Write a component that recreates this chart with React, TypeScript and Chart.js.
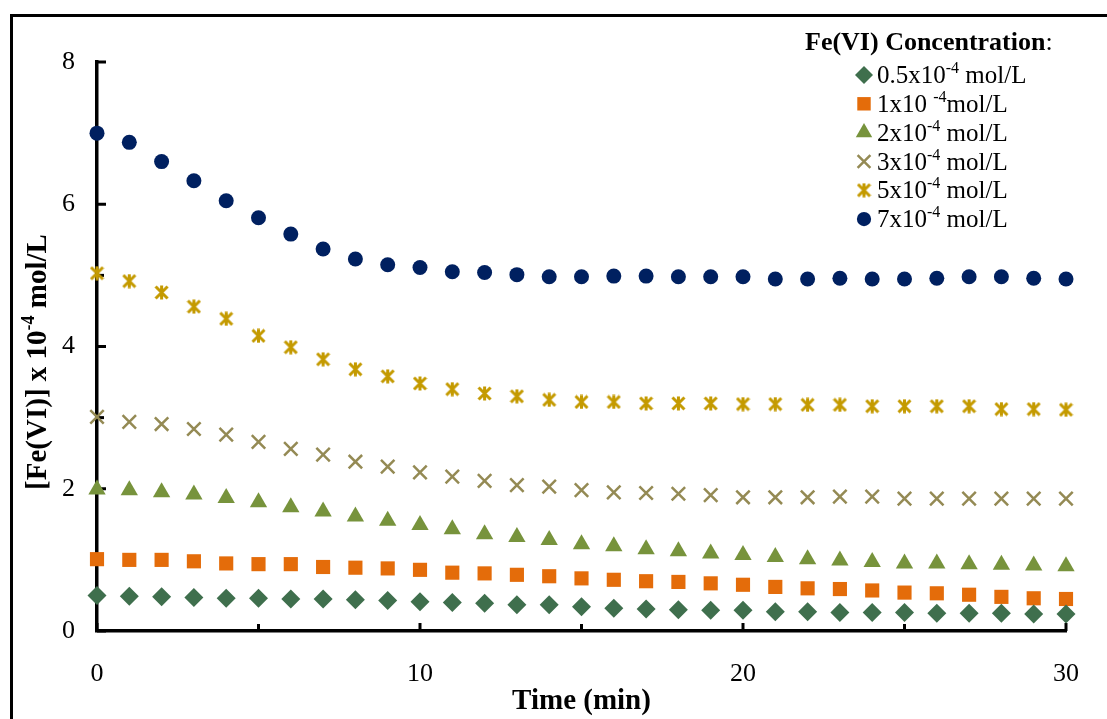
import React, { useEffect, useRef } from "react";
import { Chart, registerables } from "chart.js";
import { drawPoint } from "chart.js/helpers";

Chart.register(...registerables);

// ---------- data ----------
const times = [0, 1, 2, 3, 4, 5, 6, 7, 8, 9, 10, 11, 12, 13, 14, 15, 16, 17, 18, 19, 20, 21, 22, 23, 24, 25, 26, 27, 28, 29, 30];

const conc05 = [0.50, 0.49, 0.48, 0.47, 0.46, 0.46, 0.45, 0.45, 0.44, 0.43, 0.41, 0.40, 0.39, 0.37, 0.37, 0.34, 0.32, 0.31, 0.30, 0.29, 0.29, 0.27, 0.27, 0.26, 0.26, 0.26, 0.25, 0.25, 0.25, 0.24, 0.24];
const conc1 = [1.01, 1.00, 1.00, 0.98, 0.95, 0.94, 0.94, 0.90, 0.89, 0.88, 0.86, 0.82, 0.81, 0.79, 0.77, 0.74, 0.72, 0.70, 0.69, 0.67, 0.65, 0.62, 0.60, 0.59, 0.57, 0.54, 0.53, 0.51, 0.48, 0.46, 0.45];
const conc2 = [1.99, 1.98, 1.95, 1.92, 1.87, 1.81, 1.74, 1.68, 1.61, 1.55, 1.49, 1.43, 1.36, 1.32, 1.28, 1.22, 1.19, 1.15, 1.12, 1.09, 1.07, 1.04, 1.01, 0.99, 0.97, 0.95, 0.95, 0.94, 0.93, 0.92, 0.91];
const conc3 = [3.01, 2.94, 2.91, 2.84, 2.76, 2.66, 2.56, 2.48, 2.38, 2.31, 2.23, 2.17, 2.11, 2.05, 2.03, 1.98, 1.95, 1.94, 1.93, 1.91, 1.88, 1.88, 1.88, 1.89, 1.89, 1.86, 1.86, 1.86, 1.86, 1.86, 1.86];
const conc5 = [5.03, 4.92, 4.76, 4.56, 4.39, 4.15, 3.99, 3.82, 3.68, 3.58, 3.48, 3.40, 3.34, 3.30, 3.25, 3.22, 3.22, 3.20, 3.20, 3.20, 3.19, 3.19, 3.18, 3.18, 3.16, 3.16, 3.16, 3.16, 3.12, 3.12, 3.11];
const conc7 = [7.00, 6.87, 6.60, 6.33, 6.05, 5.81, 5.58, 5.37, 5.23, 5.15, 5.11, 5.05, 5.04, 5.01, 4.98, 4.98, 4.99, 4.99, 4.98, 4.98, 4.98, 4.95, 4.95, 4.96, 4.95, 4.95, 4.96, 4.98, 4.98, 4.96, 4.95];

const legendTitle = "Fe(VI) Concentration";
const legendBase = ["0.5x10", "1x10 ", "2x10", "3x10", "5x10", "7x10"];
const legendSup = ["-4", "-4", "-4", "-4", "-4", "-4"];
const legendTail = [" mol/L", "mol/L", " mol/L", " mol/L", " mol/L", " mol/L"];

const xTitle = "Time (min)";
const yTitleBase = "[Fe(VI)] x 10";
const yTitleSup = "-4";
const yTitleTail = " mol/L";

const xMin = 0, xMax = 30, xStep = 5, xLabelEvery = 10;
const yMin = 0, yMax = 8, yStep = 1, yLabelEvery = 2;

// ---------- styles ----------
const FONT = '"Liberation Serif", "Times New Roman", serif';
const C_DIAMOND = "#3F6F4D";
const C_SQUARE = "#E46C0A";
const C_TRI = "#77933C";
const C_X = "#948A54";
const C_STAR = "#C49A00";
const C_CIRCLE = "#002060";

function makeAsterisk(color: string, size: number, lw: number) {
  const c = document.createElement("canvas");
  c.width = size;
  c.height = size;
  const ctx = c.getContext("2d")!;
  ctx.strokeStyle = color;
  ctx.lineWidth = lw;
  const m = lw / 2;
  ctx.beginPath();
  ctx.moveTo(m, m);
  ctx.lineTo(size - m, size - m);
  ctx.moveTo(size - m, m);
  ctx.lineTo(m, size - m);
  ctx.moveTo(size / 2, 0.5);
  ctx.lineTo(size / 2, size - 0.5);
  ctx.stroke();
  return c;
}

function drawRich(
  ctx: CanvasRenderingContext2D,
  x: number,
  y: number,
  base: string,
  sup: string,
  tail: string,
  size: number,
  bold: boolean,
  align: "left" | "center"
) {
  const w = bold ? "bold " : "";
  const mainFont = `${w}${size}px ${FONT}`;
  const supSize = Math.round(size * 0.62);
  const supFont = `${w}${supSize}px ${FONT}`;
  ctx.font = mainFont;
  const w1 = ctx.measureText(base).width;
  const w3 = ctx.measureText(tail).width;
  ctx.font = supFont;
  const w2 = ctx.measureText(sup).width;
  const total = w1 + w2 + w3;
  let sx = align === "center" ? x - total / 2 : x;
  ctx.textAlign = "left";
  ctx.textBaseline = "alphabetic";
  const baseline = y + size * 0.33;
  ctx.font = mainFont;
  ctx.fillText(base, sx, baseline);
  sx += w1;
  ctx.font = supFont;
  ctx.fillText(sup, sx, baseline - size * 0.4);
  sx += w2;
  ctx.font = mainFont;
  ctx.fillText(tail, sx, baseline);
}

const decorPlugin = {
  id: "decor",
  beforeDatasetsDraw(chart: any) {
    const { ctx, chartArea } = chart;
    const xs = chart.scales.x;
    const ys = chart.scales.y;
    ctx.save();
    ctx.strokeStyle = "#000";
    ctx.lineWidth = 3;
    ys.ticks.forEach((t: any) => {
      const py = ys.getPixelForValue(t.value);
      const len = t.value % yLabelEvery === 0 ? 9 : 7;
      ctx.beginPath();
      ctx.moveTo(chartArea.left, py);
      ctx.lineTo(chartArea.left + len, py);
      ctx.stroke();
    });
    xs.ticks.forEach((t: any) => {
      const px = xs.getPixelForValue(t.value);
      const len = t.value % xLabelEvery === 0 ? 8 : 7;
      ctx.beginPath();
      ctx.moveTo(px, chartArea.bottom);
      ctx.lineTo(px, chartArea.bottom - len);
      ctx.stroke();
    });
    ctx.restore();
  },
  afterDraw(chart: any) {
    const { ctx } = chart;
    ctx.save();
    // outer frame
    ctx.strokeStyle = "#000";
    ctx.lineWidth = 3;
    ctx.beginPath();
    ctx.moveTo(11.5, 719);
    ctx.lineTo(11.5, 15.5);
    ctx.lineTo(1107, 15.5);
    ctx.stroke();

    // y axis title
    ctx.fillStyle = "#000";
    ctx.save();
    ctx.translate(36, 362);
    ctx.rotate(-Math.PI / 2);
    drawRich(ctx, 0, 0, yTitleBase, yTitleSup, yTitleTail, 29, true, "center");
    ctx.restore();

    // legend
    ctx.font = `bold 26px ${FONT}`;
    ctx.textAlign = "left";
    ctx.textBaseline = "alphabetic";
    const tw = ctx.measureText(legendTitle).width;
    ctx.fillText(legendTitle, 805, 50);
    ctx.font = `26px ${FONT}`;
    ctx.fillText(":", 805 + tw, 50);

    chart.data.datasets.forEach((ds: any, i: number) => {
      const cy = 75 + i * 28.8;
      const opts = {
        pointStyle: ds.pointStyle,
        radius: typeof ds.pointRadius === "number" ? ds.pointRadius * 0.95 : 7,
        borderWidth: ds.pointBorderWidth,
        rotation: 0,
      };
      ctx.save();
      ctx.fillStyle = ds.pointBackgroundColor;
      ctx.strokeStyle = ds.pointBorderColor;
      ctx.lineWidth = ds.pointBorderWidth;
      drawPoint(ctx, opts as any, 864, cy);
      ctx.restore();
      ctx.fillStyle = "#000";
      drawRich(ctx, 877, cy, legendBase[i], legendSup[i], legendTail[i], 25, false, "left");
    });
    ctx.restore();
  },
};

export default function App() {
  const ref = useRef<HTMLCanvasElement | null>(null);

  useEffect(() => {
    if (!ref.current) return;
    const star = makeAsterisk(C_STAR, 15, 3);
    const toPts = (vals: number[]) => times.map((t, i) => ({ x: t, y: vals[i] }));
    const chart = new Chart(ref.current, {
      type: "scatter",
      data: {
        datasets: [
          { label: "0.5", data: toPts(conc05), pointStyle: "rectRot", pointRadius: 9.5, pointBackgroundColor: C_DIAMOND, pointBorderColor: C_DIAMOND, pointBorderWidth: 0, clip: false },
          { label: "1", data: toPts(conc1), pointStyle: "rect", pointRadius: 10, pointBackgroundColor: C_SQUARE, pointBorderColor: C_SQUARE, pointBorderWidth: 0, clip: false },
          { label: "2", data: toPts(conc2), pointStyle: "triangle", pointRadius: 10, pointBackgroundColor: C_TRI, pointBorderColor: C_TRI, pointBorderWidth: 0, clip: false },
          { label: "3", data: toPts(conc3), pointStyle: "crossRot", pointRadius: 9.5, pointBackgroundColor: C_X, pointBorderColor: C_X, pointBorderWidth: 2.5, clip: false },
          { label: "5", data: toPts(conc5), pointStyle: star as any, pointRadius: 7.5, pointBackgroundColor: C_STAR, pointBorderColor: C_STAR, pointBorderWidth: 0, clip: false },
          { label: "7", data: toPts(conc7), pointStyle: "circle", pointRadius: 7.5, pointBackgroundColor: C_CIRCLE, pointBorderColor: C_CIRCLE, pointBorderWidth: 0, clip: false },
        ] as any,
      },
      options: {
        responsive: false,
        animation: false,
        devicePixelRatio: 1,
        layout: { padding: { left: 0, right: 37, top: 62, bottom: 0 } },
        plugins: {
          legend: { display: false },
          tooltip: { enabled: false },
        },
        scales: {
          x: {
            type: "linear",
            min: xMin,
            max: xMax,
            grid: { drawOnChartArea: false, drawTicks: false },
            border: { display: true, color: "#000", width: 3.5 },
            ticks: {
              stepSize: xStep,
              autoSkip: false,
              maxRotation: 0,
              color: "#000",
              padding: 28,
              font: { family: FONT, size: 26 },
              callback: (v: any) => (Number(v) % xLabelEvery === 0 ? String(v) : ""),
            },
            title: {
              display: true,
              text: xTitle,
              color: "#000",
              font: { family: FONT, size: 29, weight: "bold" },
              padding: { top: 0, bottom: 0 },
            },
            afterFit: (s: any) => {
              s.height = 88;
            },
          },
          y: {
            type: "linear",
            min: yMin,
            max: yMax,
            grid: { drawOnChartArea: false, drawTicks: false },
            border: { display: true, color: "#000", width: 3.5 },
            ticks: {
              stepSize: yStep,
              autoSkip: false,
              color: "#000",
              padding: 22,
              font: { family: FONT, size: 26 },
              callback: (v: any) => (Number(v) % yLabelEvery === 0 ? String(v) : ""),
            },
            afterFit: (s: any) => {
              s.width = 97;
            },
          },
        },
      } as any,
      plugins: [decorPlugin],
    });
    return () => chart.destroy();
  }, []);

  return (
    <div style={{ position: "absolute", left: 0, top: 0, width: 1107, height: 719, background: "#fff" }}>
      <canvas ref={ref} width={1107} height={719} style={{ display: "block" }} />
    </div>
  );
}
